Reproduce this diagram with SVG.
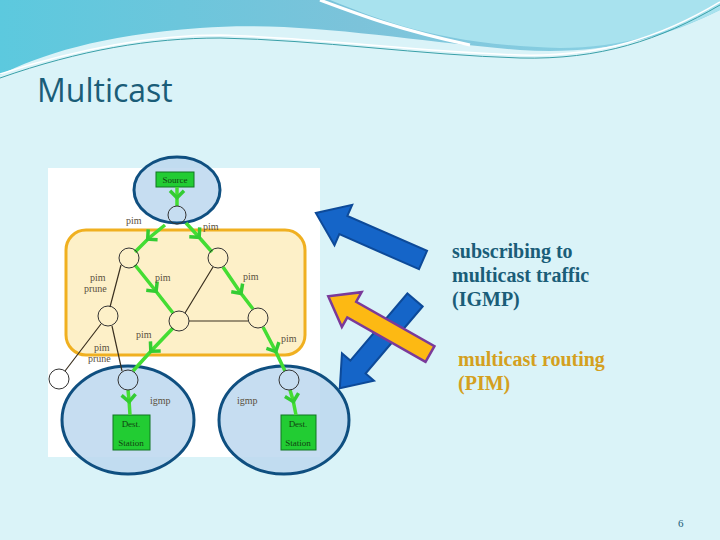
<svg xmlns="http://www.w3.org/2000/svg" width="720" height="540" viewBox="0 0 720 540">
<defs>
<linearGradient id="hg" x1="0" y1="0" x2="1" y2="0"><stop offset="0" stop-color="#5cc9de"/><stop offset="0.5" stop-color="#7cc3da"/><stop offset="1" stop-color="#8ed5e6"/></linearGradient>
<marker id="g" viewBox="0 0 10 10" refX="5" refY="5" markerWidth="5" markerHeight="5" orient="auto"><path d="M2,1 L6,5 L2,9" fill="none" stroke="#33cc33" stroke-width="2"/></marker>
<style>
.gl{stroke:#44dd33;stroke-width:3.5;fill:none}
.bl{stroke:#3a3020;stroke-width:1.2;fill:none}
.nd{fill:none;stroke:#333;stroke-width:1}
.ell{fill:#bcd7ee;fill-opacity:0.85;stroke:#0f4f80;stroke-width:3}
.bx{fill:#22cc33;stroke:#117722;stroke-width:1}
.lb{font-family:'Liberation Serif',serif;font-size:10px;fill:#5a5040}
.bt{font-family:'Liberation Serif',serif;font-size:9px;fill:#114411}
.t1{font-family:'Liberation Serif',serif;font-size:20px;font-weight:bold;fill:#1a5d78}
.t2{font-family:'Liberation Serif',serif;font-size:20px;font-weight:bold;fill:#d4a020}
</style>
</defs>
<rect width="720" height="540" fill="#daf3f8"/>
<g id="header">
<path d="M0,0 H720 V10 C660,40 600,55 520,50 C400,40 300,20 200,28 C100,35 40,55 0,75 Z" fill="url(#hg)"/>
<path d="M330,0 C380,20 440,45 560,48 C620,48 680,30 720,10 V0 Z" fill="#a8e2ee"/>
<path d="M320,0 C360,15 400,30 470,45" stroke="#ffffff" stroke-width="3" fill="none"/>
<path d="M0,78 C80,50 150,38 220,38 C320,40 420,55 520,58 C600,60 660,40 720,5" stroke="#3aa0a8" stroke-width="1" fill="none"/>
<path d="M0,74 C80,48 150,35 220,35 C320,38 420,52 520,55 C600,57 660,38 720,2" stroke="#ffffff" stroke-width="1.5" fill="none"/>
</g>
<text x="37" y="102" font-family="'Open Sans','Liberation Sans',sans-serif" font-size="32" fill="#1a5d78">Multicast</text>
<g id="figure">
<rect x="48" y="168" width="272" height="289" fill="#ffffff"/>
<rect x="66" y="230" width="239" height="125" rx="20" fill="#fdf0c8" stroke="#f0b020" stroke-width="3"/>
</g>
<g id="src"><ellipse class="ell" cx="177" cy="190" rx="43" ry="33"/><rect class="bx" x="156" y="172" width="38" height="15"/><text class="bt" x="175" y="183" text-anchor="middle">Source</text></g>
<g id="dst1"><ellipse class="ell" cx="128" cy="420" rx="66" ry="54"/><rect class="bx" x="113" y="415" width="37" height="35"/><text class="bt" x="131" y="427" text-anchor="middle">Dest.</text><text class="bt" x="131" y="446" text-anchor="middle">Station</text></g>
<g id="dst2"><ellipse class="ell" cx="284" cy="420" rx="65" ry="54"/><rect class="bx" x="281" y="415" width="35" height="35"/><text class="bt" x="298" y="427" text-anchor="middle">Dest.</text><text class="bt" x="298" y="446" text-anchor="middle">Station</text></g>
<g id="connectors">
<path class="gl" d="M177,187 L177,196 L177,206" marker-mid="url(#g)"/>
<path class="gl" d="M165,225 L149,238 L135,252" marker-mid="url(#g)"/>
<path class="gl" d="M186,223 L198,236 L212,252" marker-mid="url(#g)"/>
<path class="gl" d="M135,265 L155,290 L173,313" marker-mid="url(#g)"/>
<path class="gl" d="M223,267 L240,292 L253,309" marker-mid="url(#g)"/>
<path class="gl" d="M173,328 L152,350 L133,371" marker-mid="url(#g)"/>
<path class="gl" d="M263,327 L275,350 L285,371" marker-mid="url(#g)"/>
<path class="gl" d="M128,390 L129,400 L130,415" marker-mid="url(#g)"/>
<path class="gl" d="M290,390 L293,400 L296,415" marker-mid="url(#g)"/>
<path class="bl" d="M121,265 L110,307 M101,324 L65,371 M112,326 L122,371 M185,313 L213,267 M189,321 L248,321"/>
</g>
<g id="nodes">
<circle class="nd" cx="177" cy="215" r="9"/>
<circle class="nd" cx="129" cy="258" r="10"/>
<circle class="nd" cx="218" cy="258" r="10"/>
<circle class="nd" cx="108" cy="316" r="10"/>
<circle class="nd" cx="179" cy="321" r="10"/>
<circle class="nd" cx="258" cy="318" r="10"/>
<circle class="nd" cx="59" cy="379" r="10" fill="#fff"/>
<circle class="nd" cx="128" cy="380" r="10"/>
<circle class="nd" cx="289" cy="380" r="10"/>
</g>
<g id="labels">
<text class="lb" x="126" y="224">pim</text>
<text class="lb" x="203" y="230">pim</text>
<text class="lb" x="90" y="281">pim</text>
<text class="lb" x="84" y="292">prune</text>
<text class="lb" x="155" y="281">pim</text>
<text class="lb" x="243" y="280">pim</text>
<text class="lb" x="136" y="338">pim</text>
<text class="lb" x="94" y="351">pim</text>
<text class="lb" x="88" y="362">prune</text>
<text class="lb" x="281" y="342">pim</text>
<text class="lb" x="150" y="404">igmp</text>
<text class="lb" x="237" y="404">igmp</text>
</g>
<g id="arrows">
<path transform="translate(423,260) rotate(203.7)" d="M0,-10 L87,-10 L87,-22 L117,0 L87,22 L87,10 L0,10 Z" fill="#1565c8" stroke="#0d4a99" stroke-width="2"/>
<path transform="translate(415,300) rotate(130.4)" d="M0,-10 L88,-10 L88,-21 L116,0 L88,21 L88,10 L0,10 Z" fill="#1565c8" stroke="#0d4a99" stroke-width="2"/>
<path transform="translate(430,354) rotate(209.6)" d="M0,-9 L90,-9 L90,-20 L117,0 L90,20 L90,9 L0,9 Z" fill="#fdb913" stroke="#7a3a9a" stroke-width="2.5"/>
</g>
<text class="t1" x="452" y="258">subscribing to</text>
<text class="t1" x="452" y="282">multicast traffic</text>
<text class="t1" x="452" y="306">(IGMP)</text>
<text class="t2" x="458" y="366">multicast routing</text>
<text class="t2" x="458" y="390">(PIM)</text>
<text x="678" y="527" font-family="'Liberation Serif',serif" font-size="11" fill="#1a5d78">6</text>
</svg>
